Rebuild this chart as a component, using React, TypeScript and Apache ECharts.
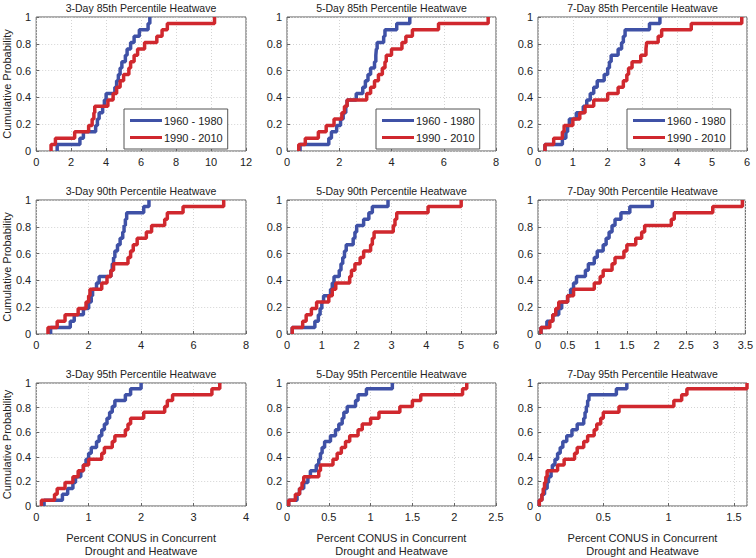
import React, { useEffect, useRef } from "react";
import * as echarts from "echarts";

// Panel titles (row-major: rows = 85th/90th/95th, cols = 3/5/7-day)
const titles = [
  "3-Day 85th Percentile Heatwave",
  "5-Day 85th Percentile Heatwave",
  "7-Day 85th Percentile Heatwave",
  "3-Day 90th Percentile Heatwave",
  "5-Day 90th Percentile Heatwave",
  "7-Day 90th Percentile Heatwave",
  "3-Day 95th Percentile Heatwave",
  "5-Day 95th Percentile Heatwave",
  "7-Day 95th Percentile Heatwave",
];

// x-axis ranges
const xMax = [12, 8, 6, 8, 6, 3.5, 4, 2.5, 1.6];
const xStep = [2, 2, 1, 2, 1, 0.5, 1, 0.5, 0.5];

const seriesNames = ["1960 - 1980", "1990 - 2010"];

// Sorted sample values (21 years each) for 1960-1980
const early = [
  [1.2, 2.5, 2.7, 3.4, 3.5, 3.6, 3.8, 3.9, 4.0, 4.5, 4.6, 4.7, 4.8, 4.9, 5.1, 5.2, 5.4, 5.6, 5.9, 6.4, 6.5],
  [0.5, 1.6, 1.7, 1.9, 2.05, 2.15, 2.25, 2.3, 2.65, 2.9, 3.0, 3.1, 3.2, 3.35, 3.4, 3.42, 3.45, 3.7, 3.75, 4.2, 4.7],
  [0.2, 0.7, 0.8, 0.85, 0.9, 1.1, 1.3, 1.4, 1.5, 1.6, 1.7, 1.9, 2.0, 2.05, 2.1, 2.3, 2.4, 2.45, 2.5, 3.2, 3.5],
  [0.55, 1.3, 1.45, 1.8, 2.0, 2.1, 2.15, 2.3, 2.4, 2.85, 2.9, 2.95, 3.0, 3.1, 3.2, 3.3, 3.35, 3.4, 3.45, 4.1, 4.3],
  [0.15, 0.8, 0.9, 0.95, 1.0, 1.05, 1.25, 1.3, 1.35, 1.5, 1.55, 1.6, 1.65, 1.7, 1.9, 1.95, 2.0, 2.2, 2.35, 2.45, 2.9],
  [0.05, 0.15, 0.25, 0.35, 0.4, 0.5, 0.55, 0.6, 0.65, 0.8, 0.85, 0.95, 1.0, 1.1, 1.15, 1.2, 1.25, 1.3, 1.4, 1.55, 1.93],
  [0.15, 0.5, 0.6, 0.7, 0.75, 0.85, 0.9, 0.95, 1.0, 1.05, 1.15, 1.2, 1.25, 1.3, 1.35, 1.4, 1.45, 1.5, 1.7, 1.8, 2.0],
  [0.02, 0.12, 0.15, 0.2, 0.25, 0.28, 0.35, 0.38, 0.4, 0.42, 0.45, 0.52, 0.58, 0.62, 0.66, 0.68, 0.72, 0.82, 0.85, 0.95, 1.26],
  [0.01, 0.03, 0.05, 0.07, 0.08, 0.1, 0.11, 0.13, 0.15, 0.17, 0.19, 0.22, 0.26, 0.3, 0.35, 0.36, 0.37, 0.38, 0.39, 0.6, 0.68],
];

// Sorted sample values (21 years each) for 1990-2010
const late = [
  [0.85, 1.1, 2.2, 3.0, 3.2, 3.3, 3.35, 4.1, 4.4, 4.6, 4.8, 5.0, 5.3, 5.4, 5.6, 5.8, 6.2, 6.9, 7.2, 7.5, 10.2],
  [0.45, 0.7, 1.2, 1.5, 1.8, 2.1, 2.2, 2.3, 3.05, 3.2, 3.35, 3.5, 3.65, 3.75, 3.8, 4.0, 4.4, 4.55, 4.8, 5.8, 7.7],
  [0.2, 0.45, 0.7, 0.75, 1.0, 1.2, 1.35, 1.6, 2.0, 2.3, 2.45, 2.55, 2.6, 2.7, 2.95, 3.1, 3.12, 3.45, 3.55, 4.4, 5.85],
  [0.45, 0.8, 1.1, 1.6, 1.9, 2.0, 2.05, 2.5, 2.7, 2.85, 2.95, 3.5, 3.6, 3.7, 3.85, 4.2, 4.4, 4.9, 5.0, 5.6, 7.15],
  [0.15, 0.45, 0.55, 0.7, 0.85, 1.2, 1.3, 1.4, 1.8, 1.85, 1.95, 2.1, 2.2, 2.4, 2.45, 2.5, 3.05, 3.1, 3.15, 4.05, 5.0],
  [0.05, 0.2, 0.25, 0.3, 0.35, 0.5, 0.6, 0.95, 1.05, 1.1, 1.25, 1.3, 1.45, 1.5, 1.65, 1.75, 1.8, 2.25, 2.3, 2.95, 3.45],
  [0.1, 0.35, 0.4, 0.55, 0.7, 0.8, 0.9, 1.0, 1.25, 1.3, 1.45, 1.5, 1.7, 1.75, 1.8, 2.05, 2.45, 2.5, 2.6, 3.35, 3.5],
  [0.02, 0.1, 0.15, 0.18, 0.2, 0.38, 0.4, 0.55, 0.6, 0.65, 0.7, 0.75, 0.85, 0.9, 1.0, 1.1, 1.35, 1.5, 1.6, 2.1, 2.15],
  [0.01, 0.03, 0.04, 0.05, 0.06, 0.07, 0.15, 0.2, 0.28, 0.3, 0.35, 0.38, 0.43, 0.45, 0.48, 0.5, 0.62, 1.04, 1.1, 1.14, 1.6],
];

const COLORS = ["#3f51a6", "#d0282e"];
const FONT = "Liberation Sans, Arial, Helvetica, sans-serif";

function ecdf(values: number[]): number[][] {
  const n = values.length;
  const pts: number[][] = [[values[0], 0]];
  values.forEach((v, i) => pts.push([v, (i + 1) / n]));
  return pts;
}

export default function App() {
  const ref = useRef<HTMLDivElement>(null);
  useEffect(() => {
    if (!ref.current) return;
    const chart = echarts.init(ref.current, null, { renderer: "svg" });
    const colLeft = [36, 287, 538];
    const colWidth = [210, 209, 209];
    const rowTop = [17, 200, 383];
    const H = 134;

    const grids: any[] = [];
    const xAxes: any[] = [];
    const yAxes: any[] = [];
    const series: any[] = [];
    const legends: any[] = [];

    for (let k = 0; k < 9; k++) {
      const r = Math.floor(k / 3);
      const c = k % 3;
      grids.push({
        left: colLeft[c],
        top: rowTop[r],
        width: colWidth[c],
        height: H,
        show: true,
        borderColor: "#5a5a5a",
        borderWidth: 1,
        backgroundColor: "#fff",
      });
      xAxes.push({
        type: "value",
        gridIndex: k,
        min: 0,
        max: xMax[k],
        interval: xStep[k],
        axisLine: { show: false },
        axisTick: { inside: true, length: 3, lineStyle: { color: "#666" } },
        axisLabel: {
          color: "#222",
          fontSize: 11,
          fontFamily: FONT,
          margin: 5,
          showMaxLabel: xMax[k] % xStep[k] === 0,
        },
        splitLine: { show: true, lineStyle: { color: "#d4d4d4", type: [1, 2], width: 1 } },
        name: r === 2 ? "Percent CONUS in Concurrent\nDrought and Heatwave" : "",
        nameLocation: "middle",
        nameGap: 25,
        nameTextStyle: { color: "#222", fontSize: 11, fontFamily: FONT, lineHeight: 13 },
      });
      yAxes.push({
        type: "value",
        gridIndex: k,
        min: 0,
        max: 1,
        interval: 0.2,
        axisLine: { show: false },
        axisTick: { inside: true, length: 3, lineStyle: { color: "#666" } },
        axisLabel: { color: "#222", fontSize: 11, fontFamily: FONT, margin: 5 },
        splitLine: { show: true, lineStyle: { color: "#d4d4d4", type: [1, 2], width: 1 } },
        name: c === 0 ? "Cumulative Probability" : "",
        nameLocation: "middle",
        nameGap: 20,
        nameTextStyle: { color: "#222", fontSize: 11, fontFamily: FONT },
      });
      [early[k], late[k]].forEach((vals, s) => {
        series.push({
          type: "line",
          name: seriesNames[s],
          xAxisIndex: k,
          yAxisIndex: k,
          data: ecdf(vals),
          step: "end",
          showSymbol: false,
          symbol: "none",
          lineStyle: { color: COLORS[s], width: 3.5 },
          itemStyle: { color: COLORS[s] },
          clip: true,
          z: 2 + s,
        });
      });
      if (r === 0) {
        const legLeft = [124, 376, 627][c];
        legends.push({
          show: true,
          data: seriesNames,
          orient: "vertical",
          left: legLeft,
          top: 109,
          itemWidth: 32,
          itemHeight: 3,
          itemGap: 6,
          icon: "rect",
          padding: [6, 5, 6, 6],
          borderColor: "#555",
          borderWidth: 1,
          backgroundColor: "#fff",
          textStyle: { color: "#222", fontSize: 11, fontFamily: FONT, padding: [0, 0, 0, -3] },
          selectedMode: false,
        });
      }
    }

    chart.setOption({
      animation: false,
      backgroundColor: "#fff",
      grid: grids,
      xAxis: xAxes,
      yAxis: yAxes,
      series,
      legend: legends,
      title: titles.map((t, k) => {
        const r = Math.floor(k / 3);
        const c = k % 3;
        return {
          text: t,
          left: colLeft[c] + colWidth[c] / 2,
          top: rowTop[r] - 15,
          textAlign: "center",
          padding: 0,
          textStyle: { color: "#222", fontSize: 10.5, fontWeight: "normal", fontFamily: FONT },
        };
      }),
    });
    return () => chart.dispose();
  }, []);
  return (
    <div
      ref={ref}
      style={{ position: "fixed", left: 0, top: 0, width: 756, height: 558, background: "#fff" }}
    />
  );
}
